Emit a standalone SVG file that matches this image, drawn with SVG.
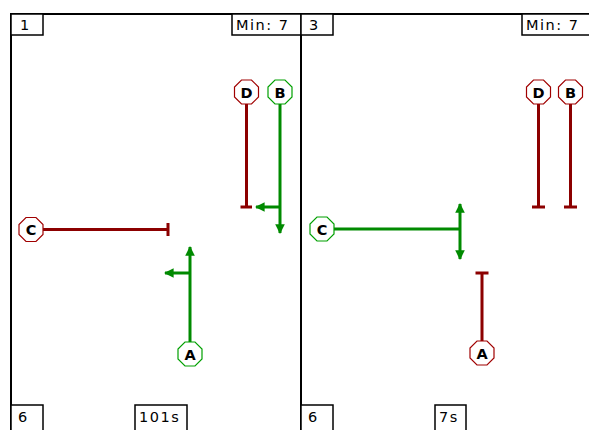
<svg xmlns="http://www.w3.org/2000/svg" width="589" height="430" viewBox="0 0 589 430">
<style>
.frame{fill:none;stroke:#000;stroke-width:2}
.box{fill:#fff;stroke:#000;stroke-width:1.5}
.lbl{font-family:"DejaVu Sans",sans-serif;font-size:14.5px;letter-spacing:1.5px;fill:#000}
.red{stroke:#8c0000;fill:none;stroke-width:3}
.grn{stroke:#008a00;fill:none;stroke-width:3}
.nred{fill:#fff;stroke:#a00000;stroke-width:1.2}
.ngrn{fill:#fff;stroke:#00a000;stroke-width:1.2}
.ntx{font-family:"DejaVu Sans",sans-serif;font-size:14.5px;font-weight:bold;fill:#000;text-anchor:middle}
</style>
<defs>
<marker id="ag" viewBox="0 0 10 10" refX="9" refY="5" markerWidth="3.2" markerHeight="3.2" orient="auto" markerUnits="strokeWidth"><path d="M0,0 L10,5 L0,10 z" fill="#008a00"/></marker>
<polygon id="oct" points="-5,-12 5,-12 12,-5 12,5 5,12 -5,12 -12,5 -12,-5"/>
</defs>
<rect width="589" height="430" fill="#fff"/>
<g id="frame">
<line class="frame" x1="10" y1="14" x2="589" y2="14"/>
<line class="frame" x1="11" y1="13" x2="11" y2="430"/>
<line class="frame" x1="301" y1="13" x2="301" y2="430"/>
</g>
<g id="labels">
<rect class="box" x="11" y="14" width="32" height="21"/><text class="lbl" x="20" y="30">1</text>
<rect class="box" x="232" y="14" width="69" height="21"/><text class="lbl" x="236" y="30">Min: 7</text>
<rect class="box" x="301" y="14" width="32" height="21"/><text class="lbl" x="309" y="30">3</text>
<rect class="box" x="522" y="14" width="80" height="21"/><text class="lbl" x="526" y="30">Min: 7</text>
<rect class="box" x="11" y="405" width="32" height="30"/><text class="lbl" x="18" y="422">6</text>
<rect class="box" x="135" y="405" width="52" height="30"/><text class="lbl" x="139" y="422">101s</text>
<rect class="box" x="301" y="405" width="32" height="30"/><text class="lbl" x="308" y="422">6</text>
<rect class="box" x="435" y="405" width="31" height="30"/><text class="lbl" x="439" y="422">7s</text>
</g>
<g id="connectors">
<path class="red" d="M246.5,104 V207 M240.5,207 H252"/>
<path class="grn" d="M280,104 V233" marker-end="url(#ag)"/>
<path class="grn" d="M280,207 H256" marker-end="url(#ag)"/>
<path class="red" d="M43,229.5 H168 M168,223 V236"/>
<path class="grn" d="M190,342 V247" marker-end="url(#ag)"/>
<path class="grn" d="M190,273 H165" marker-end="url(#ag)"/>
<path class="grn" d="M334,229 H460"/>
<path class="grn" d="M460,229 V204" marker-end="url(#ag)"/>
<path class="grn" d="M460,229 V259" marker-end="url(#ag)"/>
<path class="red" d="M482,341 V273 M475.5,273 H488.5"/>
<path class="red" d="M538.5,104 V207 M532,207 H545"/>
<path class="red" d="M570.5,104 V207 M564,207 H577"/>
</g>
<g id="node-1D" transform="translate(246.5,92)"><use href="#oct" class="nred"/><text class="ntx" y="5.5">D</text></g>
<g id="node-1B" transform="translate(280,92)"><use href="#oct" class="ngrn"/><text class="ntx" y="5.5">B</text></g>
<g id="node-1C" transform="translate(31,229.5)"><use href="#oct" class="nred"/><text class="ntx" y="5.5">C</text></g>
<g id="node-1A" transform="translate(190,354)"><use href="#oct" class="ngrn"/><text class="ntx" y="5.5">A</text></g>
<g id="node-2C" transform="translate(322,229)"><use href="#oct" class="ngrn"/><text class="ntx" y="5.5">C</text></g>
<g id="node-2A" transform="translate(482,353)"><use href="#oct" class="nred"/><text class="ntx" y="5.5">A</text></g>
<g id="node-2D" transform="translate(538.5,92)"><use href="#oct" class="nred"/><text class="ntx" y="5.5">D</text></g>
<g id="node-2B" transform="translate(570.5,92)"><use href="#oct" class="nred"/><text class="ntx" y="5.5">B</text></g>
</svg>
